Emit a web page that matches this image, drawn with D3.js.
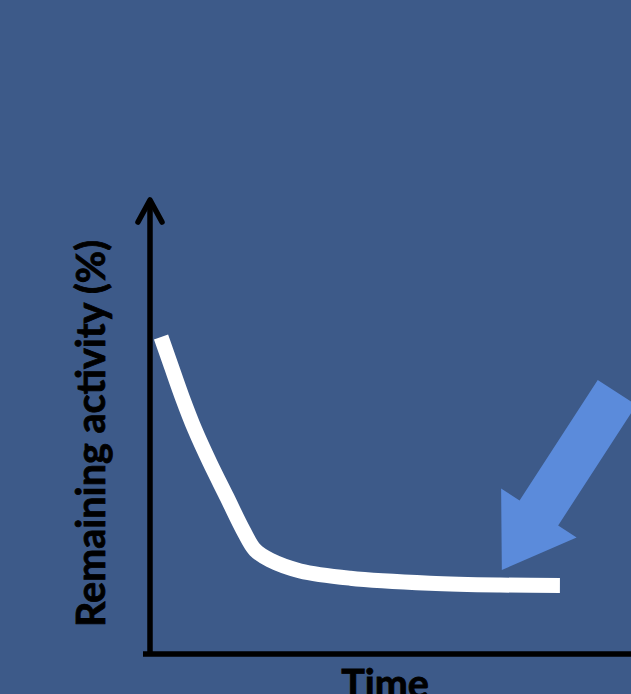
<!DOCTYPE html>
<html>
<head>
<meta charset="utf-8">
<script src="https://cdn.jsdelivr.net/npm/d3@7"></script>
<style>
  html, body { margin: 0; padding: 0; background: #3d5a89; overflow: hidden; }
  svg { display: block; }
</style>
</head>
<body>
<svg id="chart" width="631" height="694"></svg>
<script>
// ---- data ----
const timeValues = [2.3, 4.2, 6.7, 9.4, 12.5, 16.0, 19.4, 21.9, 25.0, 31.3, 41.7, 58.3, 72.9, 85.4];
const activityValues = [69.8, 64.1, 56.6, 49.3, 42.1, 34.6, 27.3, 22.9, 20.7, 18.3, 16.7, 15.6, 15.2, 15.1];
const xAxisLabel = "Time";
const yAxisLabel = "Remaining activity (%)";
const arrowTip = [73.3, 18.5];   // data coords the callout arrow points to
const arrowTail = [97.3, 57.6];  // data coords of the arrow's tail

// ---- layout ----
const W = 631, H = 694;
const svg = d3.select("#chart");
svg.append("rect").attr("width", W).attr("height", H).attr("fill", "#3d5a89");

const x = d3.scaleLinear().domain([0, 100]).range([150, 630]);
const y = d3.scaleLinear().domain([0, 100]).range([654, 200]);

const data = timeValues.map((t, i) => ({ t, a: activityValues[i] }));

// axes (no ticks)
const axisColor = "#000";
const x0 = x.range()[0], y0 = y.range()[0];
svg.append("line")
  .attr("x1", x0 - 7).attr("x2", W + 10)
  .attr("y1", y0).attr("y2", y0)
  .attr("stroke", axisColor).attr("stroke-width", 5.5);
svg.append("line")
  .attr("x1", x0).attr("x2", x0)
  .attr("y1", y0 + 2).attr("y2", y.range()[1] + 2)
  .attr("stroke", axisColor).attr("stroke-width", 5.5);
// open arrow head on y axis
const yt = y.range()[1];
svg.append("path")
  .attr("d", `M${x0 - 12},${yt + 22} L${x0},${yt} L${x0 + 12},${yt + 22}`)
  .attr("fill", "none").attr("stroke", axisColor).attr("stroke-width", 5.5)
  .attr("stroke-linecap", "round").attr("stroke-linejoin", "round");

// decay curve
const line = d3.line().x(d => x(d.t)).y(d => y(d.a)).curve(d3.curveCatmullRom.alpha(0.5));
svg.append("path")
  .datum(data)
  .attr("d", line)
  .attr("fill", "none")
  .attr("stroke", "#ffffff")
  .attr("stroke-width", 15)
  .attr("stroke-linecap", "butt")
  .attr("stroke-linejoin", "round");

// callout block arrow
(function () {
  const P = [x(arrowTip[0]), y(arrowTip[1])];
  const Q = [x(arrowTail[0]), y(arrowTail[1])];
  const dx = Q[0] - P[0], dy = Q[1] - P[1];
  const L = Math.hypot(dx, dy);
  const u = [dx / L, dy / L];
  const n = [-u[1], u[0]];
  const headLen = 68, headHalf = 45, shaftHalf = 23;
  const pt = (along, side) => [P[0] + u[0] * along + n[0] * side, P[1] + u[1] * along + n[1] * side];
  const pts = [
    P,
    pt(headLen, headHalf),
    pt(headLen, shaftHalf),
    pt(L, shaftHalf),
    pt(L, -shaftHalf),
    pt(headLen, -shaftHalf),
    pt(headLen, -headHalf)
  ];
  svg.append("polygon")
    .attr("points", pts.map(p => p.join(",")).join(" "))
    .attr("fill", "#5b8bdb");
})();

// labels
const font = "Lato, 'Open Sans', 'Liberation Sans', sans-serif";
const yl = svg.append("text")
  .attr("font-family", font).attr("font-weight", 700)
  .attr("font-size", 40).attr("fill", "#000")
  .attr("stroke", "#000").attr("stroke-width", 0.8)
  .attr("text-anchor", "middle")
  .attr("transform", "translate(105,433.5) rotate(-90)")
  .text(yAxisLabel);
// fit label length to ~387px
let len = yl.node().getComputedTextLength();
let fs = 40 * 387 / len;
yl.attr("font-size", fs);

const cap = 0.72 * fs;
svg.append("text")
  .attr("font-family", font).attr("font-weight", 700)
  .attr("font-size", fs).attr("fill", "#000")
  .attr("stroke", "#000").attr("stroke-width", 0.8)
  .attr("text-anchor", "middle")
  .attr("x", 385).attr("y", 670 + cap)
  .text(xAxisLabel);
</script>
</body>
</html>
